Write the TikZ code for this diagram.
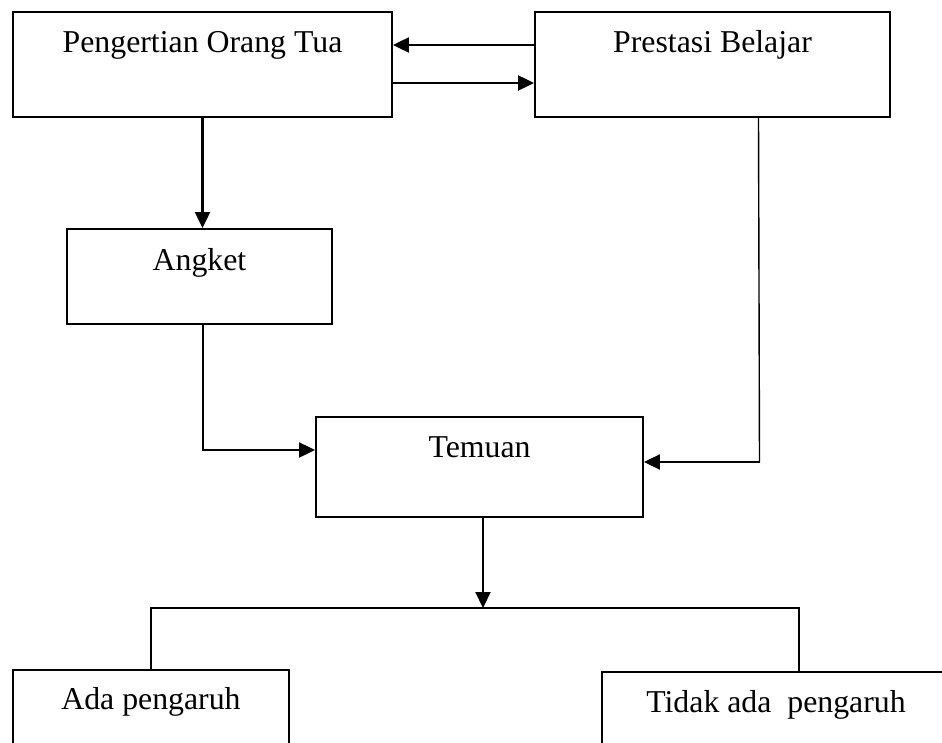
\documentclass[tikz,border=0pt]{standalone}
\usepackage{fontspec}
\setmainfont{Liberation Serif}
\usetikzlibrary{arrows.meta}
\begin{document}
\begin{tikzpicture}[x=1pt,y=-1pt,
  box/.style={draw=black,line width=1.9pt,fill=white,inner sep=0pt},
  lbl/.style={anchor=base,inner sep=0pt,font=\fontsize{31.8}{38}\selectfont},
  arr/.style={line width=2.2pt,-{Triangle[length=16pt,width=15pt]}},
  ln/.style={line width=1.8pt}]
\clip (0,0) rectangle (942,743);
\fill[white] (0,0) rectangle (942,743);
% boxes
\node[box,minimum width=379pt,minimum height=105pt] (b1) at (202.5,64.5) {};
\node[box,minimum width=355pt,minimum height=105pt] (b2) at (712.5,64.5) {};
\node[box,minimum width=265pt,minimum height=95pt] (b3) at (199.5,276.5) {};
\node[box,minimum width=327pt,minimum height=100pt] (b4) at (479.5,467) {};
\node[box,minimum width=276pt,minimum height=90pt] (b5) at (151,715) {};
\node[box,minimum width=348pt,minimum height=88pt] (b6) at (776,716) {};
% labels
\node[lbl] (t1) at ([yshift=-41pt]b1.north) {Pengertian Orang Tua};
\node[lbl] (t2) at ([yshift=-41pt]b2.north) {Prestasi Belajar};
\node[lbl] (t3) at ([yshift=-42pt]b3.north) {Angket};
\node[lbl] (t4) at ([yshift=-41pt]b4.north) {Temuan};
\node[lbl] (t5) at ([yshift=-40pt]b5.north) {Ada pengaruh};
\node[lbl] (t6) at ([yshift=-41pt]b6.north) {Tidak ada~ pengaruh};
% connectors
\draw[arr] (b2.west |- 0,45) -- (b1.east |- 0,45);
\draw[arr] (b1.east |- 0,83) -- (b2.west |- 0,83);
\draw[arr] (b1.south) -- (b1.south |- b3.north);
\draw[arr] ([xshift=3.5pt]b3.south) |- ([yshift=17pt]b4.west);
\draw[line width=1.4pt] ([xshift=46pt]b2.south) -- ([xshift=47pt]b2.south |- 0,462);
\draw[arr] ([xshift=47pt]b2.south |- 0,462) -- ([yshift=5pt]b4.east);
\coordinate (j) at (483,608);
\coordinate (hl) at (151,608);
\coordinate (hr) at (799,608);
\draw[arr] ([xshift=3.5pt]b4.south) -- (j);
\draw[ln] (b5.north) -- (hl) -- (hr) -- (hr |- b6.north);
\end{tikzpicture}
\end{document}
